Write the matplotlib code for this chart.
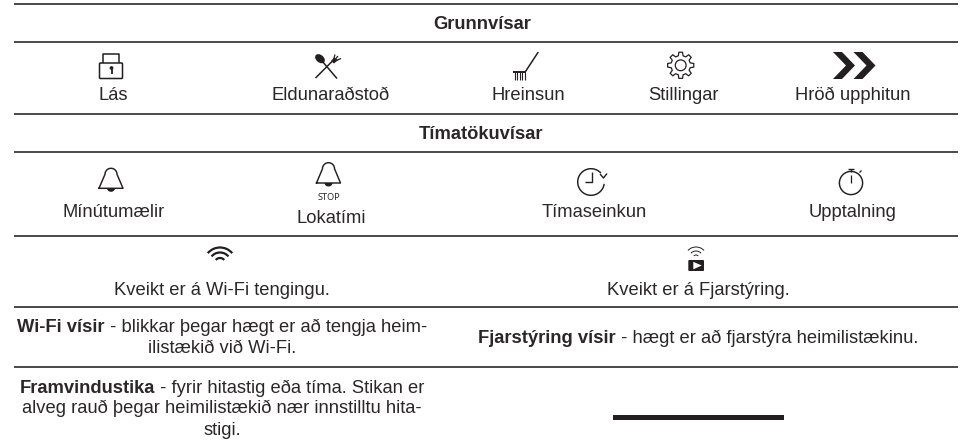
# Grunnvisar / Timatokuvisar - tafla med taknum

import numpy as np
import matplotlib
matplotlib.use("Agg")
import matplotlib.pyplot as plt
from matplotlib.patches import Polygon, Circle, Ellipse, Arc, FancyBboxPatch, Rectangle

plt.rcParams['font.family'] = ['Liberation Sans', 'DejaVu Sans']

HEADERS = ['Grunnvísar', 'Tímatökuvísar']
ROW1 = ['Lás', 'Eldunaraðstoð', 'Hreinsun', 'Stillingar', 'Hröð upphitun']
ROW2 = ['Mínútumælir', 'Lokatími', 'Tímaseinkun', 'Upptalning']
ROW3 = ['Kveikt er á Wi-Fi tengingu.', 'Kveikt er á Fjarstýring.']
WIFI_BOLD = 'Wi-Fi vísir'
WIFI_REST = ' - blikkar þegar hægt er að tengja heim-'
WIFI_LINE2 = 'ilistækið við Wi-Fi.'
REMOTE_BOLD = 'Fjarstýring vísir'
REMOTE_REST = ' - hægt er að fjarstýra heimilistækinu.'
BAR_BOLD = 'Framvindustika'
BAR_REST = ' - fyrir hitastig eða tíma. Stikan er'
BAR_LINE2 = 'alveg rauð þegar heimilistækið nær innstilltu hita-'
BAR_LINE3 = 'stigi.'

INK = '#231f20'
TXT = '#2b2728'
FS = 13.2
DY = 0.8

fig = plt.figure(figsize=(9.61, 4.46), dpi=100)
ax = fig.add_axes([0, 0, 1, 1])
ax.set_xlim(0, 961)
ax.set_ylim(446, 0)
ax.axis('off')


def label(x, y, s, **kw):
    kw.setdefault('fontsize', FS)
    return ax.text(x, y + DY, s, ha='center', va='baseline', color=TXT, **kw)


def mixed(xc, y, bold, rest):
    # negrita + texto normal en la misma linea, centrado en xc
    r = fig.canvas.get_renderer()
    t1 = ax.text(0, y + DY, bold, fontweight='bold', fontsize=FS, color=TXT, va='baseline')
    t2 = ax.text(0, y + DY, rest.replace(' ', '\u00a0', 1), fontsize=FS, color=TXT, va='baseline')
    w1 = t1.get_window_extent(r).width
    w2 = t2.get_window_extent(r).width
    x0 = xc - (w1 + w2) / 2
    t1.set_x(x0)
    t2.set_x(x0 + w1)


def line(xs, ys, lw=1.0, **kw):
    ax.plot(xs, ys, color=INK, lw=lw, solid_capstyle=kw.pop('cap', 'butt'), **kw)


def bell(cx, top, base):
    t = np.linspace(np.pi, 0, 30)
    xs = np.r_[cx - 12, cx + 6 * np.cos(t), cx + 12, cx - 12]
    ys = np.r_[base, top + 6 - 6 * np.sin(t), base, base]
    ax.plot(xs, ys, color=INK, lw=1.05, solid_joinstyle='round')
    t = np.linspace(0, np.pi, 20)
    ax.add_patch(Polygon(np.c_[cx + 4 * np.cos(t), base + 3.5 * np.sin(t)], color=INK, lw=0))


# lineas de la tabla
for y in [4, 42, 114, 152, 236, 307, 367]:
    line([14, 958], [y, y], lw=1.15)

# encabezados
label(482, 28, HEADERS[0], fontweight='bold')
label(481, 138, HEADERS[1], fontweight='bold')

for x, s in zip([113.7, 331, 528.7, 683.7, 853], ROW1):
    label(x, 99, s)
for x, y, s in zip([114, 331, 594, 853], [216, 222, 216, 216], ROW2):
    label(x, y, s)
for x, s in zip([222, 698], ROW3):
    label(x, 294, s)
label(328.5, 199.5, 'STOP', fontsize=6.6, family=['Noto Sans', 'DejaVu Sans'])

mixed(222, 331.5, WIFI_BOLD, WIFI_REST)
label(222, 352, WIFI_LINE2)
mixed(698, 342, REMOTE_BOLD, REMOTE_REST)
mixed(222, 392, BAR_BOLD, BAR_REST)
label(222, 412, BAR_LINE2)
label(222, 434, BAR_LINE3)

# barra
ax.add_patch(Rectangle((613, 415), 171, 5, color=INK, lw=0))

# candado
ax.add_patch(FancyBboxPatch((99.5, 63), 23, 15.5, boxstyle='round,pad=0,rounding_size=1',
                            fc='none', ec=INK, lw=1.1))
line([103, 103, 119.2, 119.2], [63, 53.5, 53.5, 63], lw=1.1)
ax.add_patch(Circle((111.5, 68), 1.9, color=INK, lw=0))
line([111.5, 111.5], [68, 74], lw=1.3)

# cuchara y tenedor
ax.add_patch(Ellipse((320, 58.7), 11, 7.5, angle=40, color=INK, lw=0))
line([322, 337], [61, 78.5], lw=1.1)
line([315.5, 332.5], [78, 61], lw=1.1)
for xt, yt in [(335, 54.5), (338, 56), (341, 58.5)]:
    line([333, xt], [62, yt], lw=0.9)
ax.add_patch(Polygon([[331, 61], [334, 57.5], [338, 60], [334, 63.5]], color=INK, lw=0))

# cepillo
line([538.3, 525.5], [52, 71.5], lw=1.1)
line([513.3, 526], [71.5, 71.5], lw=1.4)
for x in [514.5, 517, 519.5, 522, 524.5]:
    line([x, x], [71.5, 79.5], lw=0.8)

# engranaje
pts = []
for a in np.arange(8) * 45 - 90:
    for da, r in [(-14, 9.8), (-8, 13.2), (8, 13.2), (14, 9.8)]:
        b = np.deg2rad(a + da)
        pts.append([680.7 + r * np.cos(b), 65.3 + r * np.sin(b)])
ax.add_patch(Polygon(pts, fc='none', ec=INK, lw=0.9, joinstyle='round'))
ax.add_patch(Circle((680.7, 65.3), 5.4, fc='none', ec=INK, lw=0.9))

# doble flecha
for dx in [0, 20.5]:
    ax.add_patch(Polygon([[833 + dx, 52], [842 + dx, 52], [855 + dx, 65.5],
                          [842 + dx, 79], [833 + dx, 79], [846 + dx, 65.5]],
                         color=INK, lw=0))

bell(111, 168.3, 188.3)
bell(328.5, 162.7, 183)

# reloj con flecha
ax.add_patch(Arc((591, 182), 26.6, 26.6, theta1=8, theta2=318, color=INK, lw=1.05))
line([585, 591.7, 591.7], [182, 182, 172], lw=1.0)
line([600, 603.5, 607], [174, 178, 173.5], lw=1.0)

# cronometro
ax.add_patch(Circle((851, 183), 11.6, fc='none', ec=INK, lw=1.05))
line([851, 851], [168.5, 171.5], lw=1.0)
line([848, 854], [168.5, 168.5], lw=1.0)
line([851, 851], [175, 183], lw=0.9)
line([859.5, 861.5], [172.5, 170.5], lw=0.9)

# wifi
for r in [16, 11, 5.5]:
    ax.add_patch(Arc((220, 263.5), 2 * r, 2 * r, theta1=-140, theta2=-40, color=INK, lw=1.6))

# wifi del mando
for r in [11, 7, 3]:
    ax.add_patch(Arc((696, 258), 2 * r, 2 * r, theta1=-137, theta2=-43, color=INK, lw=0.7))
ax.add_patch(FancyBboxPatch((688.3, 260), 15.7, 11, boxstyle='round,pad=0,rounding_size=1',
                            color=INK, lw=0))
ax.add_patch(Polygon([[693.3, 261.8], [693.3, 269.3], [701.7, 265.5]], color='white', lw=0))

fig.savefig('out.png', dpi=100, facecolor='white')
